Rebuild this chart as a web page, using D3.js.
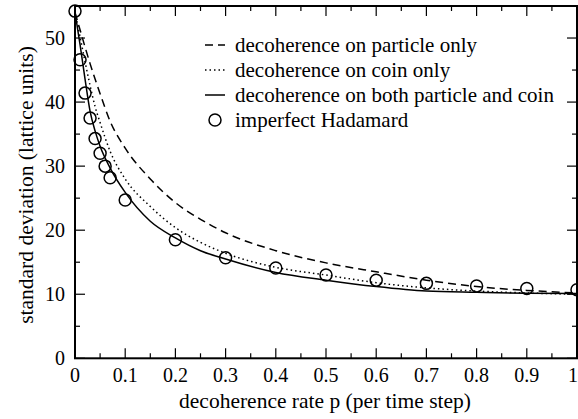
<!DOCTYPE html>
<html><head><meta charset="utf-8">
<script src="https://cdn.jsdelivr.net/npm/d3@7"></script>
<style>body{margin:0;background:#fff}svg{display:block}</style>
</head><body><svg id="c" width="578" height="419" font-family="'Liberation Serif', serif"></svg>
<script>
const pGrid = [0,0.01,0.02,0.03,0.04,0.05,0.07,0.1,0.15,0.2,0.25,0.3,0.4,0.5,0.6,0.7,0.8,0.9,1];
const particleOnly = [54,51.3,48.6,46,43.6,41.3,37,32.8,28,24.3,21.7,19.6,16.8,14.9,13.5,12.2,11.2,10.6,10.2];
const coinOnly = [54,50.2,46.3,42.6,39.3,36.8,32.3,28,23.7,20.4,18.1,16.4,14.2,13.0,11.8,11.0,10.5,10.2,10.0];
const bothNoise = [54,49,43.6,38.6,35.5,33.1,29.7,25.9,21.4,18.8,16.8,15.5,13.4,12.2,11.2,10.5,10.3,10.15,10.1];
const hadP = [0,0.01,0.02,0.03,0.04,0.05,0.06,0.07,0.1,0.2,0.3,0.4,0.5,0.6,0.7,0.8,0.9,1];
const hadSD = [54.2,46.6,41.4,37.5,34.3,32.0,30.0,28.2,24.7,18.5,15.7,14.1,13.0,12.2,11.7,11.3,10.9,10.7];
const xTicks = [0,0.1,0.2,0.3,0.4,0.5,0.6,0.7,0.8,0.9,1];
const xTickLabels = ["0","0.1","0.2","0.3","0.4","0.5","0.6","0.7","0.8","0.9","1"];
const yTicks = [0,10,20,30,40,50];
const legendLabels = ["decoherence on particle only","decoherence on coin only","decoherence on both particle and coin","imperfect Hadamard"];

const svg = d3.select("#c");
const L=75,R=577,T=6,B=358.3;
const x = d3.scaleLinear().domain([0,1]).range([L,R]);
const y = d3.scaleLinear().domain([0,55]).range([B,T]);
const fsTick = 20, fsTitle = 21.5, fsLeg = 21;

// ticks
const g = svg.append("g").attr("stroke","#000").attr("stroke-width",1.2);
const xMinor = d3.range(0,1.0001,0.05);
const yMinor = d3.range(0,55.0001,5);
xMinor.forEach((v,i)=>{
  const len = (i%2===0)?10:5;
  g.append("line").attr("x1",x(v)).attr("x2",x(v)).attr("y1",B).attr("y2",B-len);
  g.append("line").attr("x1",x(v)).attr("x2",x(v)).attr("y1",T).attr("y2",T+len);
});
yMinor.forEach((v,i)=>{
  const len = (i%2===0)?10:5;
  g.append("line").attr("y1",y(v)).attr("y2",y(v)).attr("x1",L).attr("x2",L+len);
  g.append("line").attr("y1",y(v)).attr("y2",y(v)).attr("x1",R).attr("x2",R-len);
});

// tick labels
xTicks.forEach((v,i)=>{
  const last = i===xTicks.length-1;
  svg.append("text").attr("x",last?578:x(v)).attr("y",B+24)
    .attr("text-anchor",last?"end":"middle").attr("font-size",fsTick).text(xTickLabels[i]);
});
yTicks.forEach(v=>{
  svg.append("text").attr("x",L-10).attr("y",y(v)+7).attr("text-anchor","end").attr("font-size",fsTick).text(v);
});

// axis titles
svg.append("text").attr("x",325).attr("y",408).attr("text-anchor","middle").attr("font-size",fsTitle).text("decoherence rate p (per time step)");
svg.append("text").attr("transform","translate(33,185) rotate(-90)").attr("text-anchor","middle").attr("font-size",fsTitle).text("standard deviation (lattice units)");

// curves
const line = d3.line().x(d=>x(d[0])).y(d=>y(d[1])).curve(d3.curveMonotoneX);
const styles = [{dash:"8,5"},{dash:"1.5,3"},{dash:null}];
[particleOnly,coinOnly,bothNoise].forEach((s,i)=>{
  svg.append("path").datum(pGrid.map((p,j)=>[p,s[j]])).attr("d",line)
    .attr("fill","none").attr("stroke","#000").attr("stroke-width",1.5)
    .attr("stroke-dasharray",styles[i].dash);
});

// circles
svg.append("g").selectAll("circle").data(hadP.map((p,j)=>[p,hadSD[j]])).join("circle")
  .attr("cx",d=>x(d[0])).attr("cy",d=>y(d[1])).attr("r",6)
  .attr("fill","none").attr("stroke","#000").attr("stroke-width",1.5);

// frame
svg.append("rect").attr("x",L).attr("y",T).attr("width",R-L).attr("height",B-T)
  .attr("fill","none").attr("stroke","#000").attr("stroke-width",2);

// legend
const lx0=205,lx1=225,tx=235,ly0=45,dy=25;
legendLabels.forEach((lab,i)=>{
  const yy = ly0+i*dy;
  if(i<3){
    svg.append("line").attr("x1",lx0).attr("x2",lx1).attr("y1",yy).attr("y2",yy)
      .attr("stroke","#000").attr("stroke-width",1.5).attr("stroke-dasharray",styles[i].dash);
  } else {
    svg.append("circle").attr("cx",(lx0+lx1)/2).attr("cy",yy).attr("r",6)
      .attr("fill","none").attr("stroke","#000").attr("stroke-width",1.5);
  }
  svg.append("text").attr("x",tx).attr("y",yy+7).attr("font-size",fsLeg).text(lab);
});
</script></body></html>
